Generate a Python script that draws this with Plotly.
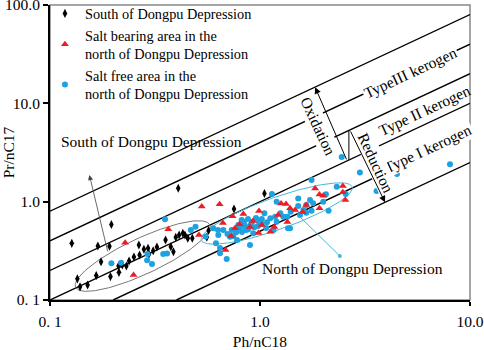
import numpy as np
import plotly.graph_objects as go

# ---------------- data ----------------
south_x = [0.127, 0.196, 0.169, 0.192, 0.175, 0.135, 0.139, 0.151, 0.166, 0.194, 0.212, 0.213,
           0.221, 0.231, 0.238, 0.251, 0.265, 0.267, 0.280, 0.293, 0.296, 0.310, 0.323, 0.355,
           0.376, 0.387, 0.397, 0.412, 0.429, 0.439, 0.453, 0.476, 0.408, 0.558, 0.569, 0.752, 1.05]
south_y = [0.377, 0.586, 0.354, 0.352, 0.245, 0.164, 0.136, 0.142, 0.177, 0.173, 0.222, 0.191,
           0.227, 0.222, 0.249, 0.274, 0.363, 0.287, 0.328, 0.336, 0.294, 0.317, 0.346, 0.408,
           0.348, 0.310, 0.434, 0.458, 0.477, 0.458, 0.424, 0.424, 1.37, 0.434, 0.509, 0.842, 1.21]

salt_x = [0.228, 0.250, 0.366, 0.528, 0.642, 0.512, 0.740, 0.666, 0.685, 0.833, 0.728, 0.760,
          0.989, 0.926, 0.984, 1.02, 1.12, 1.17, 1.22, 1.26, 1.33, 1.39, 1.47, 1.35, 1.66, 1.60,
          1.83, 1.92, 2.00, 1.92, 2.48, 2.48, 2.55, 0.799, 0.896]
salt_y = [0.383, 0.180, 0.525, 0.893, 0.940, 0.458, 0.710, 0.607, 0.323, 0.749, 0.448, 0.536,
          0.804, 0.636, 0.480, 0.579, 0.495, 0.553, 0.732, 0.958, 0.947, 0.856, 0.823, 0.621,
          0.925, 0.785, 1.36, 1.18, 1.15, 0.856, 1.44, 1.25, 1.04, 0.589, 0.553]

free_x = [0.196, 0.218, 0.290, 0.306, 0.291, 0.346, 0.361, 0.353, 0.468, 0.493, 0.550, 0.599,
          0.631, 0.633, 0.617, 0.645, 0.645, 0.694, 0.669, 0.733, 0.746, 0.788, 0.818, 0.777,
          0.880, 0.929, 0.896, 1.02, 1.08, 1.12, 1.18, 1.25, 1.29, 1.35, 1.40, 1.36, 1.20, 1.14,
          1.52, 1.52, 1.66, 1.73, 1.66, 1.76, 1.79, 2.00, 2.32, 2.56, 1.76, 3.59, 2.99, 2.06,
          1.61, 1.55, 1.39, 1.16, 1.20, 2.12, 2.45, 4.49, 6.33, 8.03, 0.839, 0.877, 0.916, 0.957,
          0.803, 0.848, 0.978, 1.02, 1.05, 0.720, 0.821, 1.07, 0.90, 0.94, 0.77, 0.86, 0.99, 0.70]
free_y = [0.236, 0.239, 0.253, 0.232, 0.294, 0.294, 0.297, 0.661, 0.515, 0.556, 0.442, 0.536,
          0.515, 0.458, 0.377, 0.338, 0.299, 0.261, 0.515, 0.515, 0.448, 0.579, 0.651, 0.408,
          0.524, 0.477, 0.363, 0.593, 0.617, 0.677, 0.703, 0.762, 0.703, 0.703, 0.791, 0.536,
          1.00, 1.20, 1.08, 0.904, 0.925, 1.04, 0.772, 0.810, 0.962, 1.00, 1.42, 1.20, 1.66,
          1.28, 1.98, 1.19, 0.823, 0.732, 0.536, 0.515, 0.626, 0.810, 2.85, 1.91, 4.07, 2.40,
          0.621, 0.666, 0.621, 0.682, 0.540, 0.566, 0.566, 0.666, 0.762, 0.440, 0.491, 0.540,
          0.58, 0.55, 0.49, 0.515, 0.63, 0.47]

kerogen_ratios = [8, 4, 2, 1, 0.5, 0.25]   # Pr/nC17 = k * Ph/nC18 guide lines

x_ticks = [0.1, 1.0, 10.0]
x_tick_labels = ["0. 1", "1.0", "10.0"]
y_ticks = [0.1, 1.0, 10.0, 100.0]
y_tick_labels = ["0. 1", "1.0", "10.0", "100.0"]

series_names = ["South of Dongpu Depression",
                "Salt bearing area in the<br>north of Dongpu Depression",
                "Salt free area in the<br>north of Dongpu Depression"]

# ---------------- layout constants ----------------
W, H = 484, 350
ML, MR, MT, MB = 50, 14, 5, 50
PX_X = (W - ML - MR) / 2.0   # pixels per decade (x)
PX_Y = (H - MT - MB) / 3.0   # pixels per decade (y)
FONT = "Liberation Serif"
FS = 15.5
BLUE = "#1DA1E0"
RED = "#EE1C25"
CYAN = "#45B8DA"
L = np.log10

fig = go.Figure()

# kerogen guide lines
for k in kerogen_ratios:
    x0 = max(0.1, 0.1 / k)
    x1 = min(10.0, 100.0 / k)
    fig.add_trace(go.Scatter(x=[x0, x1], y=[k * x0, k * x1], mode="lines",
                             line=dict(color="black", width=1.4),
                             showlegend=False, hoverinfo="skip"))


def ellipse(xc, yc, a, b, deg):
    t = np.linspace(0, 2 * np.pi, 160)
    th = np.radians(deg)
    u = a * np.cos(t) * np.cos(th) - b * np.sin(t) * np.sin(th)
    v = a * np.cos(t) * np.sin(th) + b * np.sin(t) * np.cos(th)
    return xc * 10 ** (u / PX_X), yc * 10 ** (v / PX_Y)


ex, ey = ellipse(0.276, 0.28, 74, 18, 25)
fig.add_trace(go.Scatter(x=ex, y=ey, mode="lines", line=dict(color="#777777", width=1),
                         showlegend=False, hoverinfo="skip"))
ex, ey = ellipse(1.202, 0.758, 80, 16, 19.5)
fig.add_trace(go.Scatter(x=ex, y=ey, mode="lines", line=dict(color=CYAN, width=1),
                         showlegend=False, hoverinfo="skip"))

# connector between arrows
fig.add_trace(go.Scatter(x=[2.65, 2.65], y=[2.65, 5.3], mode="lines",
                         line=dict(color="black", width=1), showlegend=False, hoverinfo="skip"))

# data series
fig.add_trace(go.Scatter(x=south_x, y=south_y, mode="markers", name=series_names[0], legendrank=1,
                         marker=dict(symbol="diamond-tall", size=6.5, color="black")))
fig.add_trace(go.Scatter(x=free_x, y=free_y, mode="markers", name=series_names[2], legendrank=3,
                         marker=dict(symbol="circle", size=6, color=BLUE)))
fig.add_trace(go.Scatter(x=salt_x, y=salt_y, mode="markers", name=series_names[1], legendrank=2,
                         marker=dict(symbol="triangle-up", size=7, color=RED)))

tf = dict(family=FONT, size=FS, color="black")
ann = []
ann.append(dict(x=L(5.2), y=L(20.8), text="TypeIII kerogen", textangle=-25, showarrow=False,
                bgcolor="white", font=tf))
ann.append(dict(x=L(6.04), y=L(8.55), text="Type II kerogen", textangle=-25, showarrow=False,
                font=tf))
ann.append(dict(x=L(6.31), y=L(3.45), text="Type I kerogen", textangle=-25, showarrow=False,
                bgcolor="white", font=tf))
ann.append(dict(x=L(1.88), y=L(5.9), text="Oxidation", textangle=65, showarrow=False,
                bgcolor="white", font=tf))
ann.append(dict(x=L(3.55), y=L(2.5), text="Reduction", textangle=65, showarrow=False,
                bgcolor="white", font=tf))
# oxidation / reduction arrows
ann.append(dict(x=L(1.83), y=L(14.6), ax=L(2.6), ay=L(2.6), axref="x", ayref="y", text="",
                showarrow=True, arrowhead=2, arrowsize=1.3, arrowwidth=1, arrowcolor="black"))
ann.append(dict(x=L(3.94), y=L(0.985), ax=L(2.68), ay=L(5.36), axref="x", ayref="y", text="",
                showarrow=True, arrowhead=2, arrowsize=1.3, arrowwidth=1, arrowcolor="black"))
# south label
ann.append(dict(x=L(0.154), y=L(1.87), ax=L(0.189), ay=L(0.301), axref="x", ayref="y", text="",
                showarrow=True, arrowhead=2, arrowsize=1.3, arrowwidth=0.8, arrowcolor="#444444"))
ann.append(dict(x=L(0.305), y=L(4.05), text="South of Dongpu Depression", showarrow=False, font=tf))
# north label
ann.append(dict(x=L(2.40), y=L(0.280), ax=L(1.517), ay=L(0.732), axref="x", ayref="y", text="",
                showarrow=True, arrowhead=6, arrowsize=1, arrowwidth=1, arrowcolor=CYAN))
ann.append(dict(x=L(2.77), y=L(0.2115), text="North of Dongpu Depression", showarrow=False, font=tf))

fig.update_layout(
    width=W, height=H,
    margin=dict(l=ML, r=MR, t=MT, b=MB, autoexpand=False),
    paper_bgcolor="white", plot_bgcolor="white",
    font=dict(family=FONT, size=FS, color="black"),
    showlegend=True,
    legend=dict(x=-0.012, y=1.025, xanchor="left", yanchor="top", bgcolor="rgba(0,0,0,0)",
                font=dict(family=FONT, size=14.3, color="black"), itemwidth=30,
                tracegroupgap=0),
    annotations=ann,
    shapes=[dict(type="rect", xref="paper", yref="paper", x0=0, y0=0, x1=1, y1=1,
                 line=dict(color="#888888", width=1.5), layer="below")],
    xaxis=dict(type="log", range=[-1, 1], tickvals=x_ticks, ticktext=x_tick_labels,
               ticks="outside", ticklen=4, tickcolor="black", tickwidth=1.5,
               showline=True, linecolor="black", linewidth=2, showgrid=False, zeroline=False,
               tickfont=dict(family=FONT, size=FS), ticklabelstandoff=2, automargin=False,
               ticklabeloverflow="allow",
               title=dict(text="Ph/nC18", font=dict(family=FONT, size=FS), standoff=8)),
    yaxis=dict(type="log", range=[-1, 2], tickvals=y_ticks, ticktext=y_tick_labels,
               ticks="outside", ticklen=5, tickcolor="black", tickwidth=1.5,
               showline=True, linecolor="black", linewidth=2, showgrid=False, zeroline=False,
               tickfont=dict(family=FONT, size=FS), automargin=False,
               ticklabeloverflow="allow",
               title=dict(text="Pr/nC17", font=dict(family=FONT, size=FS), standoff=2)),
)

fig.write_html("out.html", config={"displayModeBar": False},
               post_script="document.body.style.margin='0';")
